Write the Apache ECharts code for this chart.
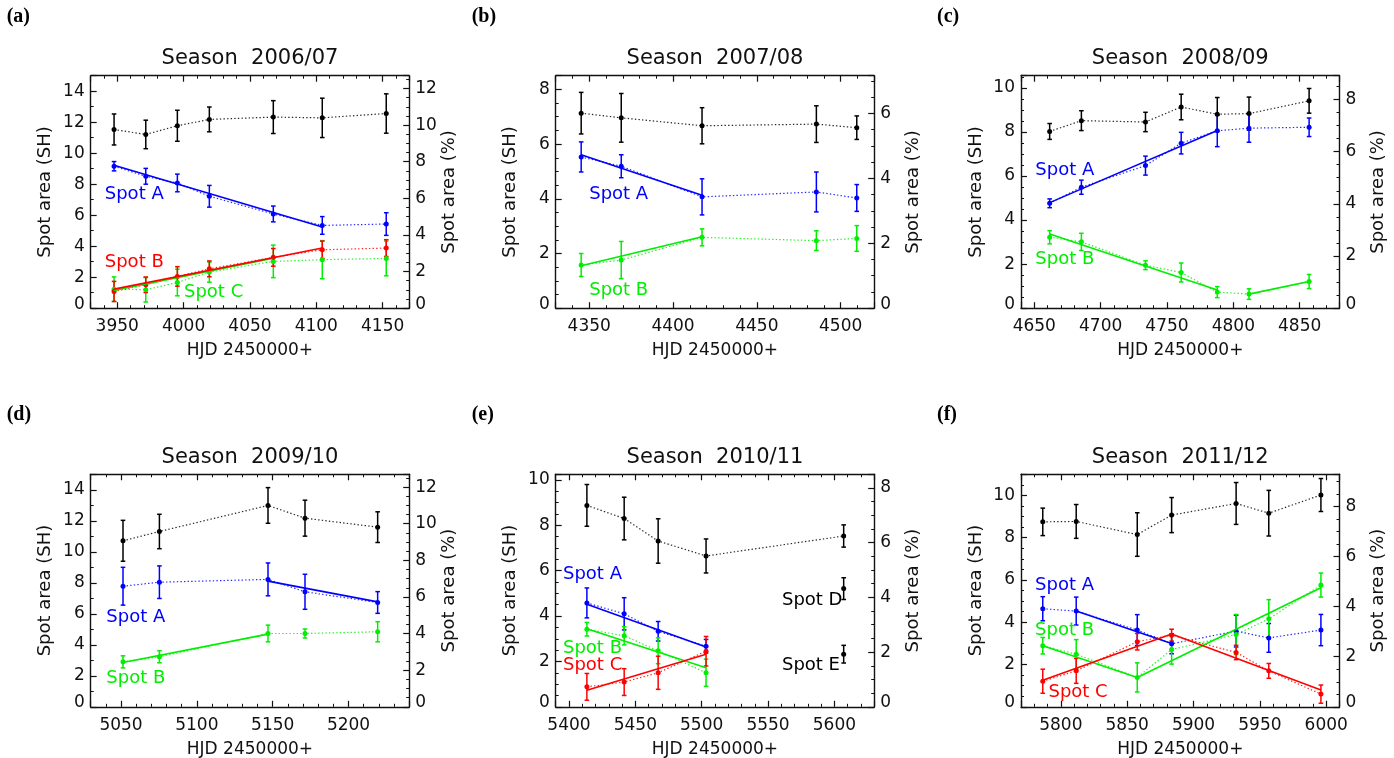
<!DOCTYPE html>
<html>
<head>
<meta charset="utf-8">
<script src="https://cdn.jsdelivr.net/npm/echarts@6/dist/echarts.min.js"></script>
<style>
  html, body { margin: 0; padding: 0; background: #fff; }
  #chart { width: 1394px; height: 758px; }
</style>
</head>
<body>
<div id="chart"></div>
<script>
// ---------------- spot areas per season (SH = solar hemispheres) ----------------
// Season 2006/07
const a_hjd      = [3947.6, 3971.5, 3995.3, 4019.4, 4067.6, 4104.5, 4152.7];
const a_total    = [11.53, 11.21, 11.77, 12.18, 12.33, 12.28, 12.56];
const a_totalErr = [1.00, 0.92, 1.00, 0.80, 1.06, 1.27, 1.27];
const a_spotA    = [9.16, 8.51, 8.08, 7.22, 6.08, 5.34, 5.43];
const a_spotAErr = [0.30, 0.51, 0.57, 0.70, 0.51, 0.57, 0.73];
const a_spotB    = [1.08, 1.51, 2.05, 2.54, 3.28, 3.77, 3.88];
const a_spotBErr = [0.65, 0.50, 0.63, 0.51, 0.57, 0.56, 0.54];
const a_spotC    = [1.23, 1.19, 1.66, 2.33, 3.02, 3.13, 3.21];
const a_spotCErr = [0.79, 0.79, 0.86, 0.65, 1.05, 1.23, 1.12];
const a_fitA = [[3947.6, 9.22, 4104.5, 5.24]];
const a_fitB = [[3947.6, 1.23, 4104.5, 3.88]];
const a_fitC = [[3947.6, 1.14, 4067.6, 3.23]];

// Season 2007/08
const b_hjd      = [4345.2, 4369.1, 4417.3, 4485.5, 4509.6];
const b_total    = [7.13, 6.96, 6.67, 6.73, 6.60];
const b_totalErr = [0.76, 0.89, 0.66, 0.67, 0.43];
const b_spotA    = [5.53, 5.19, 4.07, 4.25, 4.03];
const b_spotAErr = [0.55, 0.42, 0.66, 0.73, 0.49];
const b_spotB    = [1.58, 1.76, 2.59, 2.47, 2.55];
const b_spotBErr = [0.42, 0.68, 0.31, 0.36, 0.47];
const b_fitA = [[4345.2, 5.61, 4417.3, 4.13]];
const b_fitB = [[4345.2, 1.55, 4417.3, 2.61]];

// Season 2008/09
const c_hjd      = [4661.6, 4685.5, 4733.8, 4760.7, 4787.9, 4811.8, 4857.1];
const c_total    = [8.02, 8.51, 8.45, 9.13, 8.80, 8.83, 9.41];
const c_totalErr = [0.36, 0.45, 0.44, 0.58, 0.76, 0.75, 0.56];
const c_spotA    = [4.76, 5.49, 6.47, 7.49, 8.05, 8.17, 8.21];
const c_spotAErr = [0.20, 0.32, 0.43, 0.49, 0.72, 0.64, 0.42];
const c_spotB    = [3.22, 3.01, 1.95, 1.62, 0.73, 0.64, 1.21];
const c_spotBErr = [0.30, 0.39, 0.20, 0.43, 0.25, 0.24, 0.32];
const c_fitA = [[4661.6, 4.79, 4787.9, 8.06]];
const c_fitB = [[4661.6, 3.37, 4787.9, 0.83], [4811.8, 0.64, 4857.1, 1.21]];

// Season 2009/10
const d_hjd      = [5051.3, 5075.3, 5146.9, 5171.3, 5219.2];
const d_total    = [10.71, 11.31, 12.99, 12.17, 11.59];
const d_totalErr = [1.32, 1.11, 1.15, 1.16, 0.99];
const d_spotA    = [7.78, 8.04, 8.22, 7.42, 6.73];
const d_spotAErr = [1.22, 1.05, 1.06, 1.13, 0.70];
const d_spotB    = [2.90, 3.23, 4.73, 4.73, 4.84];
const d_spotBErr = [0.39, 0.39, 0.54, 0.29, 0.65];
const d_fitA = [[5146.9, 8.11, 5219.2, 6.77]];
const d_fitB = [[5051.3, 2.86, 5146.9, 4.69]];

// Season 2010/11
const e_hjd      = [5413.5, 5441.6, 5467.2, 5503.3, 5607.0];
const e_total    = [8.88, 8.30, 7.31, 6.65, 7.53];
const e_totalErr = [0.92, 0.94, 0.98, 0.75, 0.49];
const e_spotHjd  = [5413.5, 5441.6, 5467.2, 5503.3];
const e_spotA    = [4.58, 4.10, 3.33, 2.67];
const e_spotAErr = [0.66, 0.71, 0.43, 0.30];
const e_spotB    = [3.42, 3.13, 2.47, 1.50];
const e_spotBErr = [0.30, 0.40, 0.57, 0.60];
const e_spotC    = [0.88, 1.09, 1.50, 2.45];
const e_spotCErr = [0.59, 0.59, 0.73, 0.65];
const e_lateHjd  = [5607.0];
const e_spotD    = [5.21];
const e_spotDErr = [0.48];
const e_spotE    = [2.32];
const e_spotEErr = [0.39];
const e_fitA = [[5413.5, 4.52, 5503.3, 2.64]];
const e_fitB = [[5413.5, 3.44, 5503.3, 1.72]];
const e_fitC = [[5413.5, 0.73, 5503.3, 2.32]];

// Season 2011/12
const f_hjd      = [5786.4, 5811.6, 5857.6, 5883.5, 5932.1, 5956.7, 5996.0];
const f_total    = [8.75, 8.77, 8.15, 9.07, 9.62, 9.16, 10.02];
const f_totalErr = [0.65, 0.80, 1.03, 0.83, 0.99, 1.08, 0.78];
const f_spotA    = [4.64, 4.53, 3.63, 2.98, 3.58, 3.26, 3.63];
const f_spotAErr = [0.57, 0.66, 0.73, 0.47, 0.75, 0.68, 0.74];
const f_spotB    = [2.89, 2.49, 1.39, 2.71, 3.42, 4.16, 5.76];
const f_spotBErr = [0.39, 0.69, 0.69, 0.69, 0.95, 0.91, 0.57];
const f_spotC    = [1.21, 1.70, 3.08, 3.39, 2.57, 1.70, 0.60];
const f_spotCErr = [0.57, 0.59, 0.39, 0.28, 0.34, 0.35, 0.43];
const f_fitA = [[5811.6, 4.53, 5883.5, 3.00]];
const f_fitB = [[5786.4, 2.89, 5857.6, 1.39], [5857.6, 1.39, 5996.0, 5.63]];
const f_fitC = [[5786.4, 1.26, 5883.5, 3.44], [5883.5, 3.44, 5996.0, 0.79]];

// ---------------- styling ----------------
const BLACK = '#000000', BLUE = '#0000ff', GREEN = '#00ee00', RED = '#ff0000';
const FONT = 'DejaVu Sans';
const INK = '#111';

// ---------------- panel layout ----------------
const PANELS = [
  { letter: '(a)', title: 'Season  2006/07', left: 90.7, top: 75.7, xRange: [3930, 4170], shMax: 15, pctMax: 12.7, shMinor: 2,
    series: [
      { hjd: a_hjd, val: a_total, err: a_totalErr, color: BLACK, line: true },
      { hjd: a_hjd, val: a_spotA, err: a_spotAErr, color: BLUE, line: true },
      { hjd: a_hjd, val: a_spotC, err: a_spotCErr, color: GREEN, line: true },
      { hjd: a_hjd, val: a_spotB, err: a_spotBErr, color: RED, line: true }
    ],
    fits: [{ seg: a_fitA, color: BLUE }, { seg: a_fitC, color: GREEN }, { seg: a_fitB, color: RED }],
    notes: [
      { text: 'Spot A', color: BLUE, at: [3940.6, 7.32] },
      { text: 'Spot B', color: RED, at: [3940.6, 2.93] },
      { text: 'Spot C', color: GREEN, at: [4000.3, 1.05] }
    ] },
  { letter: '(b)', title: 'Season  2007/08', left: 555.7, top: 75.7, xRange: [4330, 4520], shMax: 8.5, pctMax: 7.16, shMinor: 4,
    series: [
      { hjd: b_hjd, val: b_total, err: b_totalErr, color: BLACK, line: true },
      { hjd: b_hjd, val: b_spotA, err: b_spotAErr, color: BLUE, line: true },
      { hjd: b_hjd, val: b_spotB, err: b_spotBErr, color: GREEN, line: true }
    ],
    fits: [{ seg: b_fitA, color: BLUE }, { seg: b_fitB, color: GREEN }],
    notes: [
      { text: 'Spot A', color: BLUE, at: [4350, 4.17] },
      { text: 'Spot B', color: GREEN, at: [4350, 0.67] }
    ] },
  { letter: '(c)', title: 'Season  2008/09', left: 1021, top: 75.7, xRange: [4640, 4880], shMax: 10.55, pctMax: 8.91, shMinor: 4,
    series: [
      { hjd: c_hjd, val: c_total, err: c_totalErr, color: BLACK, line: true },
      { hjd: c_hjd, val: c_spotA, err: c_spotAErr, color: BLUE, line: true },
      { hjd: c_hjd, val: c_spotB, err: c_spotBErr, color: GREEN, line: true }
    ],
    fits: [{ seg: c_fitA, color: BLUE }, { seg: c_fitB, color: GREEN }],
    notes: [
      { text: 'Spot A', color: BLUE, at: [4650.8, 6.27] },
      { text: 'Spot B', color: GREEN, at: [4650.8, 2.24] }
    ] },
  { letter: '(d)', title: 'Season  2009/10', left: 90.7, top: 474.3, xRange: [5030, 5240], shMax: 15, pctMax: 12.7, shMinor: 2,
    series: [
      { hjd: d_hjd, val: d_total, err: d_totalErr, color: BLACK, line: true },
      { hjd: d_hjd, val: d_spotA, err: d_spotAErr, color: BLUE, line: true },
      { hjd: d_hjd, val: d_spotB, err: d_spotBErr, color: GREEN, line: true }
    ],
    fits: [{ seg: d_fitA, color: BLUE }, { seg: d_fitB, color: GREEN }],
    notes: [
      { text: 'Spot A', color: BLUE, at: [5040.3, 5.79] },
      { text: 'Spot B', color: GREEN, at: [5040.3, 1.85] }
    ] },
  { letter: '(e)', title: 'Season  2010/11', left: 555.7, top: 474.3, xRange: [5390, 5630], shMax: 10.25, pctMax: 8.5, shMinor: 4,
    series: [
      { hjd: e_hjd, val: e_total, err: e_totalErr, color: BLACK, line: true },
      { hjd: e_lateHjd, val: e_spotD, err: e_spotDErr, color: BLACK, line: false },
      { hjd: e_lateHjd, val: e_spotE, err: e_spotEErr, color: BLACK, line: false },
      { hjd: e_spotHjd, val: e_spotA, err: e_spotAErr, color: BLUE, line: true },
      { hjd: e_spotHjd, val: e_spotB, err: e_spotBErr, color: GREEN, line: true },
      { hjd: e_spotHjd, val: e_spotC, err: e_spotCErr, color: RED, line: true }
    ],
    fits: [{ seg: e_fitA, color: BLUE }, { seg: e_fitB, color: GREEN }, { seg: e_fitC, color: RED }],
    notes: [
      { text: 'Spot A', color: BLUE, at: [5395.5, 5.85] },
      { text: 'Spot B', color: GREEN, at: [5395.5, 2.59] },
      { text: 'Spot C', color: RED, at: [5395.5, 1.84] },
      { text: 'Spot D', color: BLACK, at: [5560.5, 4.70] },
      { text: 'Spot E', color: BLACK, at: [5560.5, 1.84] }
    ] },
  { letter: '(f)', title: 'Season  2011/12', left: 1021, top: 474.3, xRange: [5770, 6010], shMax: 11, pctMax: 9.29, shMinor: 4,
    series: [
      { hjd: f_hjd, val: f_total, err: f_totalErr, color: BLACK, line: true },
      { hjd: f_hjd, val: f_spotA, err: f_spotAErr, color: BLUE, line: true },
      { hjd: f_hjd, val: f_spotB, err: f_spotBErr, color: GREEN, line: true },
      { hjd: f_hjd, val: f_spotC, err: f_spotCErr, color: RED, line: true }
    ],
    fits: [{ seg: f_fitA, color: BLUE }, { seg: f_fitB, color: GREEN }, { seg: f_fitC, color: RED }],
    notes: [
      { text: 'Spot A', color: BLUE, at: [5780.6, 5.76] },
      { text: 'Spot B', color: GREEN, at: [5780.6, 3.63] },
      { text: 'Spot C', color: RED, at: [5790.7, 0.70] }
    ] }
];

const GRID_W = 318.5, GRID_H = 232.5;

// ---------------- helpers ----------------
const isMult = (v, step) => Math.abs(v / step - Math.round(v / step)) < 1e-6;
const xFmt = v => isMult(v, 50) ? String(Math.round(v)) : '';
const yFmt = v => !isMult(v, 2) ? '' : (Math.abs(v) < 1e-9 ? '{z|0}' : String(Math.round(v)));

const tickStyle = { inside: true, length: 6, lineStyle: { color: INK, width: 1.2 } };
const minorStyle = n => ({ show: true, splitNumber: n, length: 3, lineStyle: { color: INK, width: 1 } });
const lineStyleAxis = { show: true, onZero: false, lineStyle: { color: INK, width: 1.4 } };
const labelFont = { fontFamily: FONT, fontSize: 17, color: INK };
const richZero = { z: { fontFamily: FONT, fontSize: 17, color: INK, padding: [0, 0, 8, 0] } };

function errorSeries(gi, s) {
  const data = s.hjd.map((x, i) => [x, s.val[i] - s.err[i], s.val[i] + s.err[i]]);
  return {
    type: 'custom', xAxisIndex: 2 * gi, yAxisIndex: 2 * gi, data, z: 3, silent: true,
    renderItem(params, api) {
      const x = api.value(0);
      const lo = api.coord([x, api.value(1)]);
      const hi = api.coord([x, api.value(2)]);
      const c = 2.3;
      const st = { stroke: s.color, lineWidth: 1.5 };
      return { type: 'group', children: [
        { type: 'line', shape: { x1: lo[0], y1: lo[1], x2: hi[0], y2: hi[1] }, style: st },
        { type: 'line', shape: { x1: lo[0] - c, y1: lo[1], x2: lo[0] + c, y2: lo[1] }, style: st },
        { type: 'line', shape: { x1: hi[0] - c, y1: hi[1], x2: hi[0] + c, y2: hi[1] }, style: st }
      ] };
    }
  };
}

function pointSeries(gi, s) {
  return {
    type: 'line', xAxisIndex: 2 * gi, yAxisIndex: 2 * gi, z: 4, silent: true,
    data: s.hjd.map((x, i) => [x, s.val[i]]),
    symbol: 'circle', symbolSize: 5, showSymbol: true,
    itemStyle: { color: s.color },
    lineStyle: s.line ? { color: s.color, width: 1.2, type: [1.4, 2.2], opacity: 0.85 } : { opacity: 0 }
  };
}

function fitSeries(gi, f) {
  return f.seg.map(g => ({
    type: 'line', xAxisIndex: 2 * gi, yAxisIndex: 2 * gi, z: 5, silent: true,
    data: [[g[0], g[1]], [g[2], g[3]]], symbol: 'none',
    lineStyle: { color: f.color, width: 1.6 }
  }));
}

function noteSeries(gi, n) {
  return {
    type: 'custom', xAxisIndex: 2 * gi, yAxisIndex: 2 * gi, z: 6, silent: true,
    data: [n.at],
    renderItem(params, api) {
      const p = api.coord([api.value(0), api.value(1)]);
      return { type: 'text', x: p[0], y: p[1], style: {
        text: n.text, fill: n.color, font: '18px "' + FONT + '"',
        align: 'left', verticalAlign: 'middle', textAlign: 'left', textVerticalAlign: 'middle'
      } };
    }
  };
}

// ---------------- build option ----------------
const grid = [], xAxis = [], yAxis = [], series = [], graphic = [];

PANELS.forEach((p, gi) => {
  grid.push({ left: p.left, top: p.top, width: GRID_W, height: GRID_H, containLabel: false, outerBoundsMode: 'none' });

  const xCommon = { type: 'value', gridIndex: gi, min: p.xRange[0], max: p.xRange[1], splitNumber: 4,
    axisLine: lineStyleAxis, axisTick: tickStyle, minorTick: minorStyle(5), splitLine: { show: false } };
  xAxis.push(Object.assign({}, xCommon, {
    position: 'bottom',
    axisLabel: Object.assign({ formatter: xFmt, margin: 10, showMinLabel: true, showMaxLabel: true }, labelFont),
    name: 'HJD 2450000+', nameLocation: 'middle', nameGap: 34,
    nameTextStyle: { fontFamily: FONT, fontSize: 17, color: INK }
  }));
  xAxis.push(Object.assign({}, xCommon, { position: 'top', axisLabel: { show: false } }));

  yAxis.push({ type: 'value', gridIndex: gi, position: 'left', min: 0, max: p.shMax, interval: 2,
    axisLine: lineStyleAxis, axisTick: tickStyle, minorTick: minorStyle(p.shMinor), splitLine: { show: false },
    axisLabel: Object.assign({ formatter: yFmt, margin: 6, rich: richZero }, labelFont),
    name: 'Spot area (SH)', nameLocation: 'middle', nameRotate: 90, nameGap: 36,
    nameTextStyle: { fontFamily: FONT, fontSize: 18, color: INK } });
  yAxis.push({ type: 'value', gridIndex: gi, position: 'right', min: 0, max: p.pctMax, interval: 2,
    axisLine: lineStyleAxis, axisTick: tickStyle, minorTick: minorStyle(4), splitLine: { show: false },
    axisLabel: Object.assign({ formatter: yFmt, margin: 6, rich: richZero }, labelFont),
    name: 'Spot area (%)', nameLocation: 'middle', nameRotate: 90, nameGap: 30,
    nameTextStyle: { fontFamily: FONT, fontSize: 18, color: INK } });

  p.series.forEach(s => { series.push(errorSeries(gi, s)); series.push(pointSeries(gi, s)); });
  p.fits.forEach(f => fitSeries(gi, f).forEach(sr => series.push(sr)));
  p.notes.forEach(n => series.push(noteSeries(gi, n)));

  // panel title and letter
  graphic.push({ type: 'text', x: p.left + GRID_W / 2, y: p.top - 17, silent: true,
    style: { text: p.title, fill: INK, font: '21px "' + FONT + '"', align: 'center', verticalAlign: 'middle',
             textAlign: 'center', textVerticalAlign: 'middle' } });
  graphic.push({ type: 'text', x: p.left - 84, y: p.top - 59, silent: true,
    style: { text: p.letter, fill: '#000', font: 'bold 20px "Liberation Serif"', align: 'left', verticalAlign: 'middle',
             textAlign: 'left', textVerticalAlign: 'middle' } });
});

const chart = echarts.init(document.getElementById('chart'), null, { renderer: 'canvas', width: 1394, height: 758 });
chart.setOption({
  backgroundColor: '#ffffff',
  animation: false,
  grid, xAxis, yAxis, series, graphic
});
</script>
</body>
</html>
